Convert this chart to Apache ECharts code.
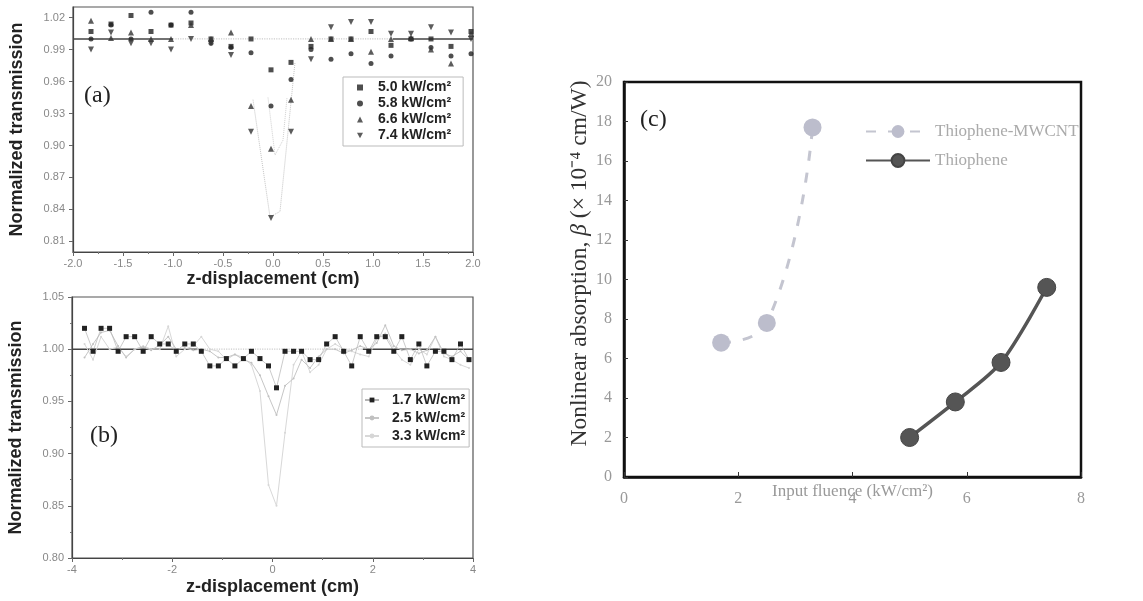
<!DOCTYPE html>
<html>
<head>
<meta charset="utf-8">
<script src="https://cdn.jsdelivr.net/npm/echarts/dist/echarts.min.js"></script>
<style>
  html, body { margin: 0; padding: 0; background: #fff; }
  #main { width: 1143px; height: 601px; }
</style>
</head>
<body>
<div id="main"></div>
<script>
// ---- panel (a): z-scan at four fluences ----
var zA = [-1.82, -1.62, -1.42, -1.22, -1.02, -0.82, -0.62, -0.42, -0.22, -0.02,
          0.18, 0.38, 0.58, 0.78, 0.98, 1.18, 1.38, 1.58, 1.78, 1.98];
var t50 = [1.007, 1.014, 1.022, 1.007, 1.013, 1.015, 1.000, 0.993, 1.000, 0.971,
           0.978, 0.993, 1.000, 1.000, 1.007, 0.994, 1.000, 1.000, 0.993, 1.007];
var t58 = [1.000, 1.013, 1.000, 1.025, 1.013, 1.025, 0.996, 0.992, 0.987, 0.937,
           0.962, 0.990, 0.981, 0.986, 0.977, 0.984, 1.000, 0.992, 0.984, 0.986];
var t66 = [1.017, 1.001, 1.006, 1.000, 1.000, 1.013, 1.000, 1.006, 0.937, 0.897,
           0.943, 1.000, 1.000, 1.000, 0.988, 1.000, 1.001, 0.990, 0.977, 1.005];
var t74 = [0.990, 1.006, 0.996, 0.996, 0.990, 1.000, 0.996, 0.985, 0.913, 0.832,
           0.913, 0.981, 1.011, 1.016, 1.016, 1.005, 1.005, 1.011, 1.006, 1.000];
var fitA1 = [[-0.20, 0.943], [-0.03, 0.833], [0.07, 0.838], [0.22, 0.978]];
var fitA2 = [[-0.05, 0.945], [0.02, 0.891], [0.10, 0.905], [0.14, 0.945]];
var flatA = [[-2.0, 1.0], [-1.0, 1.0], [-0.9, '-'], [1.2, 1.0], [2.0, 1.0]];
var flatA2 = [[-1.0, 1.0], [1.2, 1.0]];
var namesA = ['5.0 kW/cm²', '5.8 kW/cm²', '6.6 kW/cm²', '7.4 kW/cm²'];
var yTicksA = [0.81, 0.84, 0.87, 0.90, 0.93, 0.96, 0.99, 1.02];

// ---- panel (b): z-scan at lower fluences ----
var zB = [-3.75, -3.58, -3.42, -3.25, -3.08, -2.92, -2.75, -2.58, -2.42, -2.25,
          -2.08, -1.92, -1.75, -1.58, -1.42, -1.25, -1.08, -0.92, -0.75, -0.58,
          -0.42, -0.25, -0.08, 0.08, 0.25, 0.42, 0.58, 0.75, 0.92, 1.08,
          1.25, 1.42, 1.58, 1.75, 1.92, 2.08, 2.25, 2.42, 2.58, 2.75,
          2.92, 3.08, 3.25, 3.42, 3.58, 3.75, 3.92];
var t17 = [1.020, 0.998, 1.020, 1.020, 0.998, 1.012, 1.012, 0.998, 1.012, 1.005,
           1.005, 0.998, 1.005, 1.005, 0.998, 0.984, 0.984, 0.991, 0.984, 0.991,
           0.998, 0.991, 0.984, 0.963, 0.998, 0.998, 0.998, 0.990, 0.990, 1.005,
           1.012, 0.998, 0.984, 1.012, 0.998, 1.012, 1.012, 0.998, 1.012, 0.990,
           1.005, 0.984, 0.998, 0.998, 0.990, 1.005, 0.990];
var t25 = [0.992, 1.005, 1.016, 1.018, 1.003, 0.992, 1.000, 1.002, 0.999, 1.004,
           1.012, 1.000, 1.001, 0.999, 1.000, 0.998, 0.992, 0.992, 0.995, 0.990,
           0.987, 0.975, 0.955, 0.937, 0.965, 0.972, 0.990, 0.982, 0.993, 1.000,
           1.000, 0.996, 0.999, 1.003, 1.000, 1.006, 1.023, 1.003, 0.999, 1.000,
           0.996, 0.999, 1.012, 0.996, 0.993, 0.998, 0.990];
var t33 = [1.005, 0.990, 1.012, 1.000, 1.002, 0.993, 1.000, 1.003, 1.000, 1.000,
           1.022, 0.993, 1.000, 1.003, 1.012, 1.000, 0.998, 0.990, 0.995, 0.992,
           0.985, 0.960, 0.870, 0.850, 0.920, 0.985, 0.998, 0.978, 0.985, 1.000,
           1.005, 1.000, 0.998, 0.995, 0.993, 1.010, 1.015, 1.000, 0.990, 0.985,
           1.000, 0.995, 1.012, 0.993, 0.990, 0.985, 0.982];
var flatB = [[-4.0, 1.0], [-1.5, 1.0], [-1.4, '-'], [1.8, 1.0], [4.0, 1.0]];
var flatB2 = [[-1.5, 1.0], [1.8, 1.0]];
var namesB = ['1.7 kW/cm²', '2.5 kW/cm²', '3.3 kW/cm²'];

// ---- panel (c): nonlinear absorption vs fluence ----
var fluMW = [1.7, 2.5, 3.3];
var betaMW = [6.8, 7.8, 17.7];
var fluTh = [5.0, 5.8, 6.6, 7.4];
var betaTh = [2.0, 3.8, 5.8, 9.6];

function pairs(xs, ys) {
  return xs.map(function (x, i) { return [x, ys[i]]; });
}

var sansFont = '"Liberation Sans", Arial, sans-serif';
var serifFont = '"Liberation Serif", "Times New Roman", serif';
var invTri = 'path://M0,0 L10,0 L5,9 Z';

var tickLabelAB = { color: '#888', fontSize: 11, fontFamily: sansFont };

function zAxis(gridIndex, min, max, interval, digits, gap) {
  return {
    type: 'value', gridIndex: gridIndex, min: min, max: max, interval: interval,
    name: 'z-displacement (cm)', nameLocation: 'middle', nameGap: gap, nameMoveOverlap: false,
    nameTextStyle: { fontFamily: sansFont, fontWeight: 'bold', fontSize: 18, color: '#222' },
    axisLine: { onZero: false, lineStyle: { color: '#444', width: 1.2 } },
    axisTick: { inside: false, length: 4, lineStyle: { color: '#666' } },
    minorTick: { show: true, splitNumber: 2, length: 2, lineStyle: { color: '#777' } },
    splitLine: { show: false },
    axisLabel: Object.assign({ margin: 6, formatter: function (v) { return v.toFixed(digits); } }, tickLabelAB)
  };
}

function tAxis(gridIndex, min, max, extra) {
  return Object.assign({
    type: 'value', gridIndex: gridIndex, min: min, max: max,
    name: 'Normalized transmission', nameLocation: 'middle', nameGap: 47, nameMoveOverlap: false,
    nameTextStyle: { fontFamily: sansFont, fontWeight: 'bold', fontSize: 18, color: '#222' },
    axisLine: { show: true, onZero: false, lineStyle: { color: '#444', width: 1.2 } },
    splitLine: { show: false }
  }, extra);
}

var chart = echarts.init(document.getElementById('main'));

var option = {
  backgroundColor: '#fff',
  animation: false,
  grid: [
    { left: 73, right: 670, top: 7, bottom: 349, show: true, borderColor: '#555', borderWidth: 1.2 },
    { left: 72, right: 670, top: 297, bottom: 43, show: true, borderColor: '#555', borderWidth: 1.2 },
    { left: 624, right: 62, top: 82, bottom: 124, show: true, borderColor: '#111', borderWidth: 2.5 }
  ],
  xAxis: [
    zAxis(0, -2, 2, 0.5, 1, 18),
    zAxis(1, -4, 4, 2, 0, 20),
    {
      type: 'value', gridIndex: 2, min: 0, max: 8, interval: 2,
      name: 'Input fluence (kW/cm²)', nameLocation: 'middle', nameGap: 6, nameMoveOverlap: false,
      nameTextStyle: { fontFamily: serifFont, fontSize: 17, color: '#999' },
      axisLine: { onZero: false, lineStyle: { color: '#111', width: 2.5 } },
      axisTick: { inside: true, length: 5, lineStyle: { color: '#333' } },
      splitLine: { show: false },
      axisLabel: { margin: 14, color: '#999', fontSize: 16, fontFamily: serifFont }
    }
  ],
  yAxis: [
    tAxis(0, 0.80, 1.03, {
      axisLabel: Object.assign({ margin: 8, customValues: yTicksA,
        formatter: function (v) { return v.toFixed(2); } }, tickLabelAB),
      axisTick: { show: true, length: 4, customValues: yTicksA, lineStyle: { color: '#666' } }
    }),
    tAxis(1, 0.80, 1.05, {
      interval: 0.05,
      axisTick: { show: true, length: 4, lineStyle: { color: '#666' } },
      minorTick: { show: true, splitNumber: 2, length: 2, lineStyle: { color: '#777' } },
      axisLabel: Object.assign({ margin: 8, formatter: function (v) { return v.toFixed(2); } }, tickLabelAB)
    }),
    {
      type: 'value', gridIndex: 2, min: 0, max: 20, interval: 2,
      name: 'Nonlinear absorption, {i|β} (× 10⁻⁴ cm/W)', nameLocation: 'middle', nameGap: 32,
      nameMoveOverlap: false,
      nameTextStyle: {
        fontFamily: serifFont, fontSize: 23.5, color: '#333', padding: [0, 0, 0, 32],
        rich: { i: { fontFamily: serifFont, fontSize: 23.5, fontStyle: 'italic', color: '#333' } }
      },
      axisLine: { onZero: false, lineStyle: { color: '#111', width: 2.5 } },
      axisTick: { inside: true, length: 4, lineStyle: { color: '#333' } },
      splitLine: { show: false },
      axisLabel: { margin: 12, color: '#999', fontSize: 16, fontFamily: serifFont }
    }
  ],
  legend: [
    {
      data: namesA, orient: 'vertical', left: 343, top: 77,
      borderColor: '#bbb', borderWidth: 1, padding: [3, 12, 3, 14],
      itemWidth: 6, itemHeight: 6, itemGap: 1,
      textStyle: { fontFamily: sansFont, fontWeight: 'bold', fontSize: 14, lineHeight: 15,
                   color: '#222', padding: [0, 0, 0, 10] }
    },
    {
      data: namesB, orient: 'vertical', left: 362, top: 389,
      borderColor: '#bbb', borderWidth: 1, padding: [3, 4, 3, 2],
      itemWidth: 14, itemHeight: 6, itemGap: 2,
      textStyle: { fontFamily: sansFont, fontWeight: 'bold', fontSize: 14, lineHeight: 16,
                   color: '#222', padding: [0, 0, 0, 8] }
    },
    {
      data: ['Thiophene-MWCNT', 'Thiophene'], orient: 'vertical', left: 860, top: 118,
      itemWidth: 64, itemHeight: 16, itemGap: 12,
      textStyle: { fontFamily: serifFont, fontSize: 17, color: '#aaa' }
    }
  ],
  graphic: [
    { type: 'text', left: 84, top: 84, style: { text: '(a)', font: '24px "Liberation Serif", serif', fill: '#222' } },
    { type: 'text', left: 90, top: 424, style: { text: '(b)', font: '24px "Liberation Serif", serif', fill: '#222' } },
    { type: 'text', left: 640, top: 108, style: { text: '(c)', font: '24px "Liberation Serif", serif', fill: '#222' } }
  ],
  series: [
    // panel (a)
    { type: 'line', xAxisIndex: 0, yAxisIndex: 0, data: flatA2, symbol: 'none', silent: true,
      lineStyle: { color: '#ccc', width: 1.2, type: 'dotted' }, z: 1 },
    { type: 'line', xAxisIndex: 0, yAxisIndex: 0, data: flatA, symbol: 'none', silent: true,
      lineStyle: { color: '#444', width: 1.5 }, z: 1 },
    { type: 'line', xAxisIndex: 0, yAxisIndex: 0, data: fitA1, symbol: 'none', silent: true,
      lineStyle: { color: '#c4c4c4', width: 1, type: 'dotted' }, z: 1 },
    { type: 'line', xAxisIndex: 0, yAxisIndex: 0, data: fitA2, symbol: 'none', silent: true,
      lineStyle: { color: '#d0d0d0', width: 1, type: 'dotted' }, z: 1 },
    { name: namesA[0], type: 'scatter', xAxisIndex: 0, yAxisIndex: 0, data: pairs(zA, t50),
      symbol: 'rect', symbolSize: 5, itemStyle: { color: '#222' } },
    { name: namesA[1], type: 'scatter', xAxisIndex: 0, yAxisIndex: 0, data: pairs(zA, t58),
      symbol: 'circle', symbolSize: 5, itemStyle: { color: '#222' } },
    { name: namesA[2], type: 'scatter', xAxisIndex: 0, yAxisIndex: 0, data: pairs(zA, t66),
      symbol: 'triangle', symbolSize: 6, itemStyle: { color: '#333' } },
    { name: namesA[3], type: 'scatter', xAxisIndex: 0, yAxisIndex: 0, data: pairs(zA, t74),
      symbol: invTri, symbolSize: 6, itemStyle: { color: '#333' } },

    // panel (b)
    { type: 'line', xAxisIndex: 1, yAxisIndex: 1, data: flatB2, symbol: 'none', silent: true,
      lineStyle: { color: '#ccc', width: 1.2, type: 'dotted' }, z: 1 },
    { type: 'line', xAxisIndex: 1, yAxisIndex: 1, data: flatB, symbol: 'none', silent: true,
      lineStyle: { color: '#444', width: 1.5 }, z: 1 },
    { name: namesB[2], type: 'line', xAxisIndex: 1, yAxisIndex: 1, data: pairs(zB, t33),
      symbol: 'circle', symbolSize: 2, itemStyle: { color: '#d6d6d6' },
      lineStyle: { color: '#d8d8d8', width: 1 } },
    { name: namesB[1], type: 'line', xAxisIndex: 1, yAxisIndex: 1, data: pairs(zB, t25),
      symbol: 'circle', symbolSize: 2, itemStyle: { color: '#c0c0c0' },
      lineStyle: { color: '#c6c6c6', width: 1 } },
    { name: namesB[0], type: 'line', xAxisIndex: 1, yAxisIndex: 1, data: pairs(zB, t17),
      symbol: 'rect', symbolSize: 5, itemStyle: { color: '#222' },
      lineStyle: { color: '#b4b4b4', width: 0.7 } },

    // panel (c)
    { name: 'Thiophene-MWCNT', type: 'line', xAxisIndex: 2, yAxisIndex: 2, data: pairs(fluMW, betaMW),
      smooth: 0.5, symbol: 'circle', symbolSize: 18,
      itemStyle: { color: '#bcbdcc' }, lineStyle: { color: '#c4c5d0', width: 3, type: [10, 12] } },
    { name: 'Thiophene', type: 'line', xAxisIndex: 2, yAxisIndex: 2, data: pairs(fluTh, betaTh),
      smooth: 0.3, symbol: 'circle', symbolSize: 18,
      itemStyle: { color: '#555', borderColor: '#444', borderWidth: 1 },
      lineStyle: { color: '#555', width: 3.5 } }
  ]
};

chart.setOption(option);
</script>
</body>
</html>
